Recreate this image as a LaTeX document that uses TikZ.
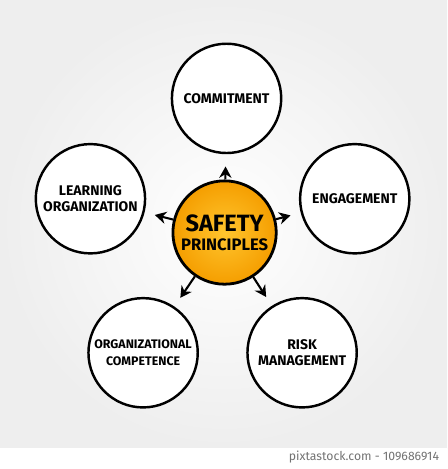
\documentclass[tikz,border=0pt]{standalone}
\usepackage{fontspec}
\setsansfont{Fira Sans}
\usetikzlibrary{arrows.meta,calc}
\definecolor{bgGray}{HTML}{EEEEEE}
\definecolor{coreOrange}{HTML}{F59E00}
\definecolor{coreYellow}{HTML}{FFC52E}
\tikzset{
	topic/.style={circle, draw=black, line width=1.4pt, fill=white, minimum size=2.2cm, inner sep=0pt, align=center, font=\sffamily\bfseries\fontsize{8}{9.5}\selectfont},
	core/.style={circle, draw=black, line width=1.6pt, inner color=coreYellow, outer color=coreOrange, minimum size=2.08cm, inner sep=0pt, align=center, font=\sffamily\bfseries},
	arr/.style={-{Stealth[length=6.5pt,width=7pt]}, line width=1.2pt}
}

\begin{document}
\begin{tikzpicture}[x=0.02cm, y=-0.02cm]
				\shade[inner color=white, outer color=bgGray] (0, 0) rectangle (450, 451);
				\fill[white] (0, 451) rectangle (450, 469);
				\node[anchor=east, text=black!55, font=\sffamily\fontsize{7}{8}\selectfont] (credit) at (448, 460) {pixtastock.com - 109686914};
				
				\node[core] (safety) at (226, 234) {{\fontsize{13.5}{14}\selectfont SAFETY}\\[-1pt]{\fontsize{9.5}{11}\selectfont PRINCIPLES}};
				
				\node[topic] (commit) at (228, 99) {COMMITMENT};
				\node[topic] (learn) at (91, 200) {LEARNING\\ORGANIZATION};
				\node[topic] (engage) at (357, 200) {ENGAGEMENT};
				\node[topic, font=\sffamily\bfseries\fontsize{7.1}{9.5}\selectfont] (compet) at (144, 355) {ORGANIZATIONAL\\COMPETENCE};
				\node[topic] (risk) at (304, 355) {RISK\\MANAGEMENT};
				
				\draw[arr, shorten >=7pt] (safety) -- (commit);
				\draw[arr, shorten >=6pt] (safety) -- (learn);
				\draw[arr, shorten >=6pt] (safety) -- (engage);
				\draw[arr, shorten >=6pt] (safety) -- (compet);
				\draw[arr, shorten >=6pt] (safety) -- (risk);
			\end{tikzpicture}
\end{document}
